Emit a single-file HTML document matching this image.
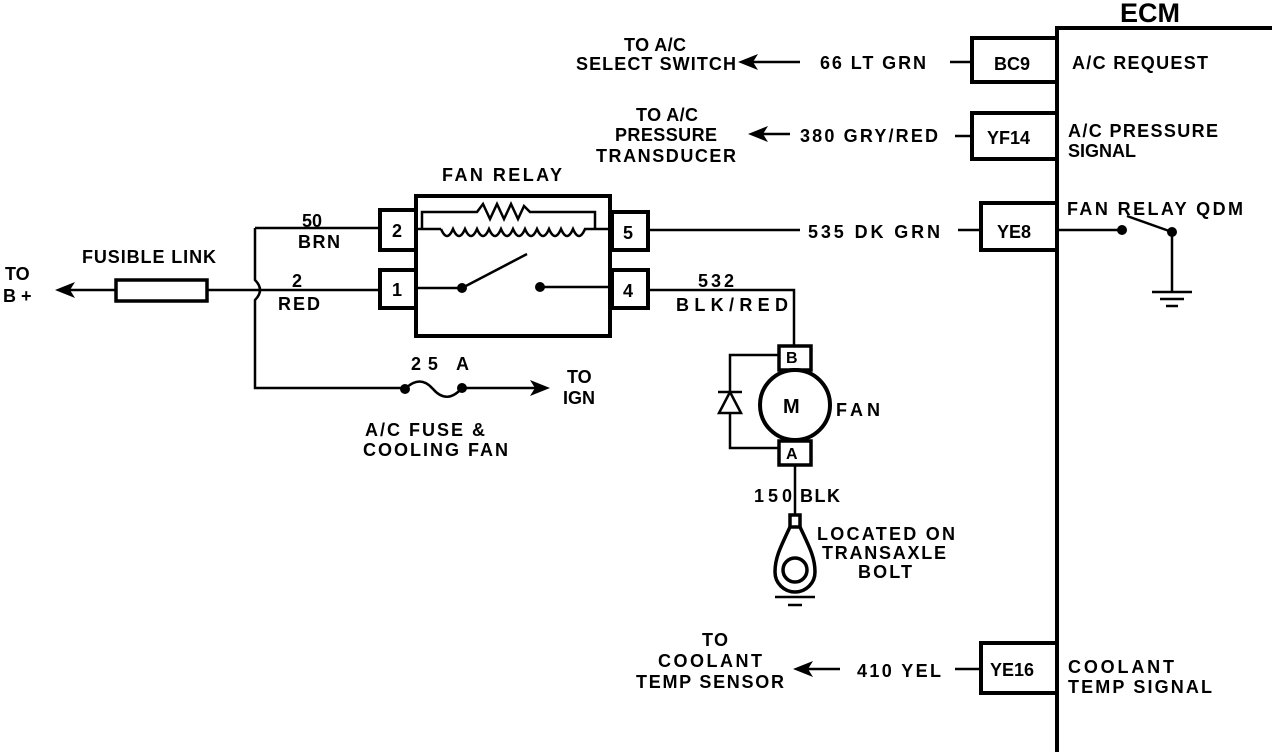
<!DOCTYPE html>
<html><head><meta charset="utf-8"><style>
html,body{margin:0;padding:0;background:#fff;width:1280px;height:752px;overflow:hidden}
svg text{font-family:"Liberation Sans",sans-serif;font-weight:bold;font-size:18px;fill:#000}
</style></head><body>
<svg width="1280" height="752" viewBox="0 0 1280 752" xmlns="http://www.w3.org/2000/svg">
<g fill="none" stroke="#000" stroke-width="2.5">
<path d="M1057 752 V28 H1272" stroke-width="4"/>
<path d="M1057 38 H972 V82 H1057" stroke-width="4"/>
<path d="M1057 113 H972 V159 H1057" stroke-width="4"/>
<path d="M1057 203 H981 V250 H1057" stroke-width="4"/>
<path d="M1057 643 H981 V693 H1057" stroke-width="4"/>
<line x1="950" y1="62" x2="972" y2="62"/>
<line x1="955" y1="136" x2="972" y2="136"/>
<line x1="958" y1="230" x2="981" y2="230"/>
<line x1="955" y1="669" x2="981" y2="669"/>
<line x1="1057" y1="230" x2="1122" y2="230"/>
<line x1="1127" y1="216" x2="1172" y2="232"/>
<line x1="1172" y1="232" x2="1172" y2="292"/>
<line x1="1152" y1="292" x2="1192" y2="292"/>
<line x1="1160" y1="299" x2="1184" y2="299"/>
<line x1="1166" y1="306" x2="1178" y2="306"/>
<line x1="745" y1="62" x2="800" y2="62"/>
<line x1="755" y1="134" x2="790" y2="134"/>
<line x1="800" y1="669" x2="840" y2="669"/>
<rect x="416" y="196" width="194" height="140" stroke-width="4"/>
<rect x="380" y="210" width="36" height="40" stroke-width="4"/>
<rect x="380" y="270" width="36" height="38" stroke-width="4"/>
<rect x="612" y="212" width="36" height="38" stroke-width="4"/>
<rect x="612" y="270" width="36" height="38" stroke-width="4"/>
<path d="M418 229 H441"/>
<path d="M422 229 V212 H477 L483 204 L490 219 L497 204 L504 219 L511 204 L518 219 L524 206 L530 212 H595 V229"/>
<path d="M441 229 q6 14 12 0 q6 14 12 0 q6 14 12 0 q6 14 12 0 q6 14 12 0 q6 14 12 0 q6 14 12 0 q6 14 12 0 q6 14 12 0 q6 14 12 0 q6 14 12 0 q6 14 12 0 L595 229 H612"/>
<path d="M418 288 H462 L527 254"/>
<path d="M540 287 H612"/>
<path d="M255 228 H380"/>
<path d="M255 228 V280 q10 10 0 20 V388 H405"/>
<path d="M207 290 H380"/>
<rect x="116" y="280" width="91" height="21" stroke-width="3.5"/>
<line x1="62" y1="290" x2="116" y2="290"/>
<path d="M405 389 q15 -15 28 0 q14 16 29 -1"/>
<line x1="462" y1="388" x2="540" y2="388"/>
<line x1="648" y1="230" x2="800" y2="230"/>
<path d="M648 290 H794 V346"/>
<rect x="779" y="346" width="32" height="24" stroke-width="3.5"/>
<circle cx="795" cy="405" r="35" stroke-width="4"/>
<rect x="779" y="441" width="32" height="24" stroke-width="3.5"/>
<path d="M779 355 H730 V448 H779"/>
<path d="M730 392 L719 413 H741 Z" fill="#fff"/>
<line x1="718" y1="392" x2="742" y2="392"/>
<line x1="795" y1="465" x2="795" y2="515"/>
<rect x="790" y="515" width="10" height="12" stroke-width="3.5"/>
<path d="M790 527 C780 548 775 558 775 572 a20 20 0 0 0 40 0 c0 -14 -5 -24 -15 -45" stroke-width="3.5"/>
<circle cx="795" cy="570" r="12" stroke-width="3.5"/>
<line x1="775" y1="597" x2="815" y2="597"/>
<line x1="788" y1="605" x2="802" y2="605"/>
</g>
<g fill="#000">
<circle cx="462" cy="288" r="5"/><circle cx="540" cy="287" r="5"/>
<circle cx="405" cy="389" r="5"/><circle cx="462" cy="388" r="5"/>
<circle cx="1122" cy="230" r="5"/><circle cx="1172" cy="232" r="5"/>
<path d="M55 290 L75 282 L70 290 L75 298 Z"/>
<path d="M550 388 L530 380 L535 388 L530 396 Z"/>
<path d="M738 62 L758 54 L753 62 L758 70 Z"/>
<path d="M748 134 L768 126 L763 134 L768 142 Z"/>
<path d="M793 669 L813 661 L808 669 L813 677 Z"/>
</g>
<text x="1120" y="22" style="font-size:27px">ECM</text>
<text x="994" y="70">BC9</text>
<text x="987" y="144">YF14</text>
<text x="997" y="238">YE8</text>
<text x="990" y="676">YE16</text>
<text x="1072" y="69" textLength="136">A/C REQUEST</text>
<text x="1068" y="137" textLength="150">A/C PRESSURE</text>
<text x="1068" y="157">SIGNAL</text>
<text x="1067" y="215" textLength="176">FAN RELAY QDM</text>
<text x="1068" y="673" textLength="106">COOLANT</text>
<text x="1068" y="693" textLength="144">TEMP SIGNAL</text>
<text x="624" y="51" textLength="62">TO A/C</text>
<text x="576" y="70" textLength="160">SELECT SWITCH</text>
<text x="820" y="69" textLength="106">66 LT GRN</text>
<text x="636" y="121" textLength="62">TO A/C</text>
<text x="615" y="141" textLength="102">PRESSURE</text>
<text x="596" y="162" textLength="140">TRANSDUCER</text>
<text x="800" y="142" textLength="138">380 GRY/RED</text>
<text x="808" y="238" textLength="132">535 DK GRN</text>
<text x="702" y="646" textLength="26">TO</text>
<text x="658" y="667" textLength="104">COOLANT</text>
<text x="636" y="688" textLength="148">TEMP SENSOR</text>
<text x="857" y="677" textLength="84">410 YEL</text>
<text x="442" y="181" textLength="120">FAN RELAY</text>
<text x="392" y="237">2</text><text x="392" y="296">1</text>
<text x="623" y="239">5</text><text x="623" y="297">4</text>
<text x="302" y="227">50</text><text x="298" y="248" textLength="42">BRN</text>
<text x="292" y="287">2</text><text x="278" y="310" textLength="42">RED</text>
<text x="82" y="263" textLength="134">FUSIBLE LINK</text>
<text x="5" y="280">TO</text><text x="3" y="302">B +</text>
<text x="411" y="370" textLength="58">25 A</text>
<text x="567" y="383">TO</text><text x="563" y="404">IGN</text>
<text x="365" y="436" textLength="120">A/C FUSE &amp;</text>
<text x="363" y="456" textLength="145">COOLING FAN</text>
<text x="698" y="287" textLength="36">532</text>
<text x="676" y="311" textLength="112">BLK/RED</text>
<text x="786" y="363" style="font-size:16px">B</text>
<text x="786" y="459" style="font-size:16px">A</text>
<text x="783" y="413" style="font-size:20px">M</text>
<text x="836" y="416" textLength="44">FAN</text>
<text x="754" y="502" textLength="38">150</text>
<text x="800" y="502" textLength="40">BLK</text>
<text x="817" y="540" textLength="138">LOCATED ON</text>
<text x="822" y="559" textLength="124">TRANSAXLE</text>
<text x="858" y="578" textLength="54">BOLT</text>
</svg>
</body></html>
